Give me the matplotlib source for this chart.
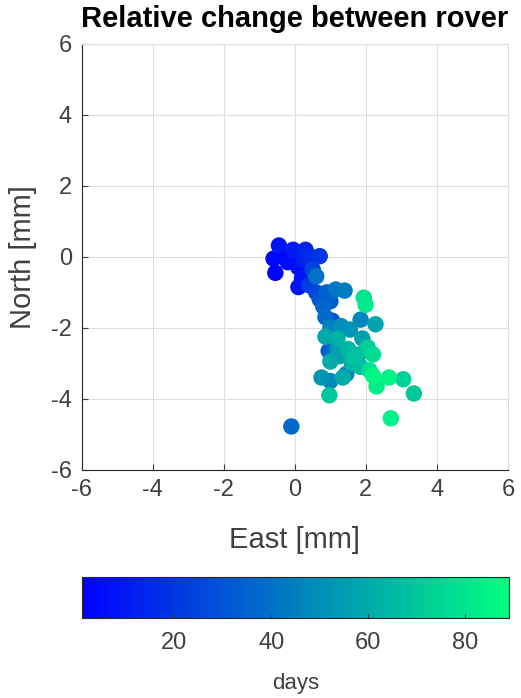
import numpy as np
import matplotlib
matplotlib.use("Agg")
from matplotlib import pyplot as plt

plt.rcParams['font.family'] = ['Liberation Sans', 'DejaVu Sans']
plt.rcParams['axes.unicode_minus'] = False

### relative position of rover (mm) and the day each sample was taken
east = [-0.45, -0.6, -0.55, -0.3, -0.2, -0.05, 0.05, 0.1, 0.3, 0.25,
        0.7, 0.45, 0.5, 0.2, 0.1, 0.6, 0.4, 0.6, 0.7, 1.15,
        1.4, 0.9, 0.8, 1.0, 0.86, 1.05, 1.0, 1.3, 1.55, 1.85,
        2.27, 1.94, 1.99, 0.86, 1.2, 1.9, 0.95, 1.2, 1.5, 1.8,
        2.2, 1.0, 1.25, 1.6, 1.85, 2.1, 2.2, 2.65, 3.05, 3.35,
        2.3, 0.75, 1.0, 1.35, 1.45, 0.97, 2.7, -0.1, 1.65, 2.05]
north = [0.32, -0.05, -0.45, 0.1, -0.15, 0.2, 0.05, -0.3, 0.2, -0.1,
         0.02, 0.0, -0.35, -0.6, -0.85, -0.55, -0.8, -1.0, -1.2, -0.92,
         -0.95, -1.0, -1.4, -1.25, -1.7, -1.8, -2.0, -1.95, -2.05, -1.77,
         -1.9, -1.15, -1.35, -2.25, -2.3, -2.3, -2.65, -2.6, -2.6, -2.75,
         -2.75, -2.95, -2.8, -3.0, -3.1, -3.2, -3.35, -3.4, -3.45, -3.85,
         -3.65, -3.4, -3.5, -3.4, -3.3, -3.9, -4.55, -4.78, -2.85, -2.55]
days = [8, 3, 2, 1, 5, 10, 4, 6, 14, 12,
        20, 16, 24, 9, 7, 40, 22, 26, 30, 42,
        44, 34, 36, 32, 38, 28, 46, 50, 52, 48,
        58, 80, 82, 60, 62, 56, 35, 54, 64, 66,
        76, 60, 57, 62, 66, 78, 86, 85, 73, 70,
        83, 52, 48, 60, 45, 70, 84, 37, 68, 72]

east = np.array(east)
north = np.array(north)
days = np.array(days)
order = np.argsort(days, kind="stable")

fig = plt.figure(figsize=(5.21, 6.98), dpi=100)
ax = fig.add_axes([0.157, 0.327, 0.818, 0.610])

sc = ax.scatter(east[order], north[order], c=days[order], cmap="winter",
                vmin=1, vmax=89, s=140, edgecolors="none", zorder=3)

ax.set_xlim(-6, 6)
ax.set_ylim(-6, 6)
ax.set_xticks(range(-6, 7, 2))
ax.set_yticks(range(-6, 7, 2))
ax.grid(True, color="#dedede", linewidth=0.8)
ax.set_axisbelow(True)

tick_col = "#404040"
ax.tick_params(direction="in", length=4, colors=tick_col, labelsize=17,
               top=False, right=False, pad=7)
for s in ["left", "bottom"]:
    ax.spines[s].set_color("#262626")
for s in ["top", "right"]:
    ax.spines[s].set_color("#dedede")

ax.set_xlabel("East [mm]", fontsize=21, color=tick_col, labelpad=18)
ax.set_ylabel("North [mm]", fontsize=21, color=tick_col, labelpad=10)
ax.set_title("Relative change between rover", fontsize=21,
             fontweight="bold", pad=12)

### horizontal colorbar underneath
cax = fig.add_axes([0.157, 0.115, 0.820, 0.059])
cb = fig.colorbar(sc, cax=cax, orientation="horizontal")
cb.set_ticks([20, 40, 60, 80])
cb.ax.tick_params(direction="in", length=3, colors=tick_col, labelsize=17,
                  pad=10)
cb.outline.set_edgecolor("#262626")
cb.set_label("days", fontsize=16, color=tick_col, labelpad=14)

plt.savefig("out.png", dpi=100)
